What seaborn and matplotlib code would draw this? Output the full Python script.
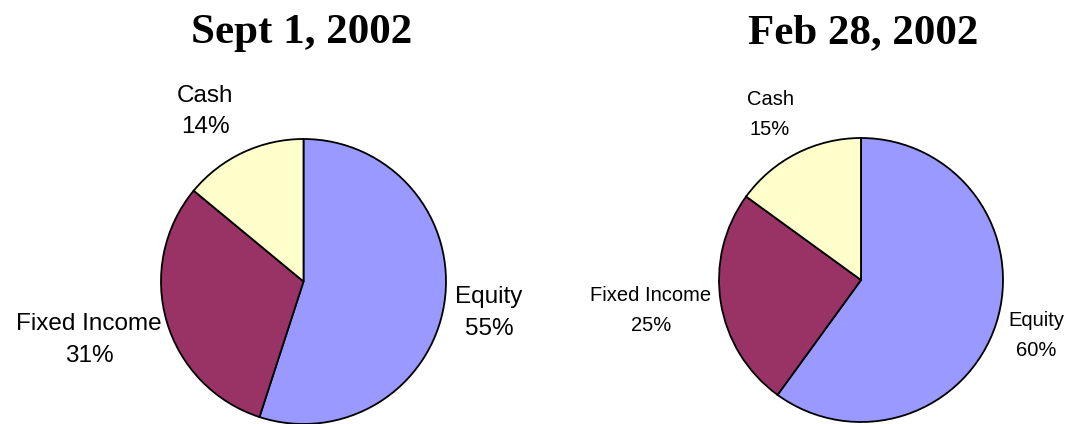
import matplotlib
matplotlib.use("Agg")
import matplotlib.pyplot as plt
import seaborn as sns

# ---- data ----
categories = ["Equity", "Fixed Income", "Cash"]
sept_values = [55, 31, 14]
feb_values = [60, 25, 15]
titles = ["Sept 1, 2002", "Feb 28, 2002"]
colors = ["#9999FF", "#993366", "#FFFFCC"]

sns.set_theme(style="white")
plt.rcParams["font.family"] = ["Liberation Sans", "DejaVu Sans"]

W, H = 1065, 424
fig = plt.figure(figsize=(W / 100, H / 100), dpi=100)
fig.patch.set_facecolor("white")
ax = fig.add_axes([0, 0, 1, 1])

def Y(y_img):
    return H - y_img

panels = [
    dict(values=sept_values, title=titles[0], center=(303.5, 281.5), radius=142.5,
         title_x=302, fs=17.5,
         labels={"Equity": (489, 303, 335), "Fixed Income": (89, 330, 362), "Cash": (205, 102, 133)}),
    dict(values=feb_values, title=titles[1], center=(861, 280), radius=142,
         title_x=863, fs=14.5,
         labels={"Equity": (1036, 326, 356), "Fixed Income": (651, 301, 331), "Cash": (770, 105, 135)}),
]

for p in panels:
    cx, cy = p["center"]
    ax.pie(p["values"], colors=colors, startangle=90, counterclock=False,
           center=(cx, Y(cy)), radius=p["radius"],
           wedgeprops=dict(edgecolor="black", linewidth=1.3))
    ax.text(p["title_x"], Y(43), p["title"], ha="center", va="baseline",
            fontsize=31, fontweight="bold", family=["Liberation Serif", "DejaVu Serif"],
            color="black")
    for cat, val in zip(categories, p["values"]):
        x, b1, b2 = p["labels"][cat]
        ax.text(x, Y(b1), cat, ha="center", va="baseline", fontsize=p["fs"], color="black")
        ax.text(x, Y(b2), f"{val}%", ha="center", va="baseline", fontsize=p["fs"], color="black")

ax.set_xlim(0, W)
ax.set_ylim(0, H)
ax.set_aspect("equal", adjustable="box")
ax.axis("off")

fig.savefig("out.png", dpi=100, facecolor="white")
